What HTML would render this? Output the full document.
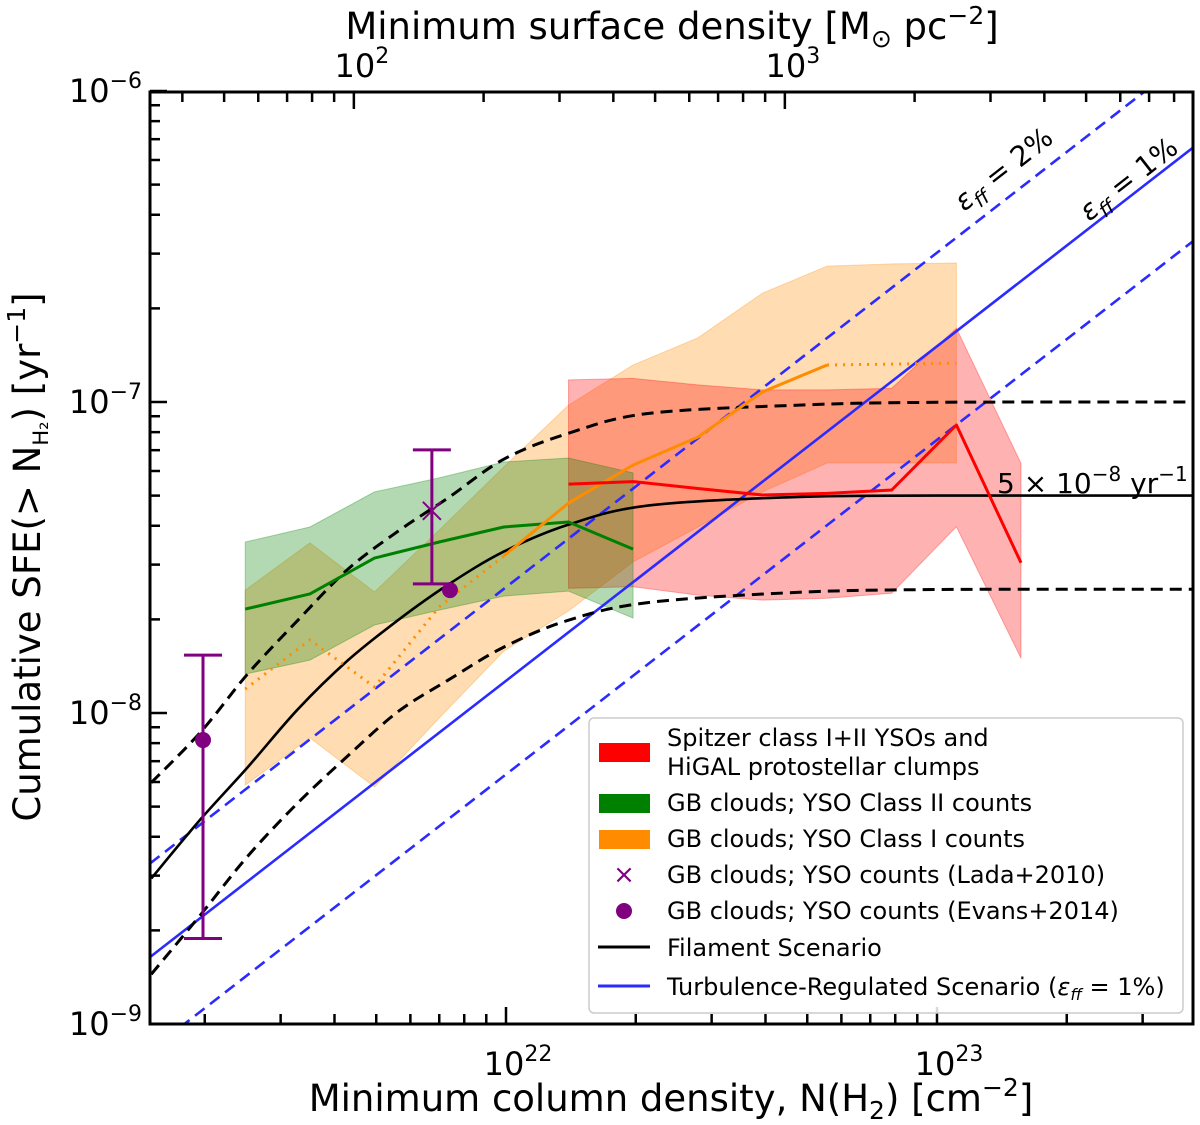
<!DOCTYPE html>
<html><head><meta charset="utf-8"><style>
html,body{margin:0;padding:0;background:#fff;}
svg{display:block;font-family:"DejaVu Sans","Liberation Sans",sans-serif;}
</style></head><body>
<svg id="chart" width="1200" height="1125" viewBox="0 0 1200 1125" xmlns="http://www.w3.org/2000/svg">
<defs><clipPath id="plotclip"><rect x="150" y="92" width="1043" height="932"/></clipPath></defs>
<rect x="0" y="0" width="1200" height="1125" fill="#fff"/>
<g id="plot" clip-path="url(#plotclip)"></g>
<g id="axes"></g>
<text x="671" y="1111" font-size="37" text-anchor="middle">Minimum column density, N(H<tspan font-size="25" dy="8">2</tspan><tspan dy="-8">) [cm</tspan><tspan font-size="25" dy="-15">−2</tspan><tspan dy="15">]</tspan></text>
<text x="672" y="39" font-size="37" text-anchor="middle">Minimum surface density [M<tspan font-size="25" dy="8">⊙</tspan><tspan dy="-8"> pc</tspan><tspan font-size="25" dy="-15">−2</tspan><tspan dy="15">]</tspan></text>
<text transform="translate(40,557) rotate(-90)" font-size="37" text-anchor="middle">Cumulative SFE(&gt; N<tspan font-size="21" dy="8">H₂</tspan><tspan dy="-8">) [yr</tspan><tspan font-size="25" dy="-15">−1</tspan><tspan dy="15">]</tspan></text>
<text x="997" y="493" font-size="28">5 × 10<tspan font-size="20" dy="-12">−8</tspan><tspan dy="12"> yr</tspan><tspan font-size="20" dy="-12">−1</tspan></text>
<text transform="translate(964,212) rotate(-38)" font-size="28"><tspan font-style="italic">ε</tspan><tspan font-size="20" font-style="italic" dy="7">ff</tspan><tspan dy="-7"> = 2%</tspan></text>
<text transform="translate(1089,222) rotate(-38)" font-size="28"><tspan font-style="italic">ε</tspan><tspan font-size="20" font-style="italic" dy="7">ff</tspan><tspan dy="-7"> = 1%</tspan></text>
<g id="legend">
<rect x="589" y="718" width="594" height="295" rx="5" fill="#fff" fill-opacity="0.85" stroke="#ccc" stroke-width="1.5"/>
<rect x="599" y="743" width="51" height="19" fill="#ff0000"/>
<text x="667" y="746" font-size="24">Spitzer class I+II YSOs and</text>
<text x="667" y="775" font-size="24">HiGAL protostellar clumps</text>
<rect x="599" y="794" width="51" height="19" fill="#008000"/>
<text x="667" y="811" font-size="24">GB clouds; YSO Class II counts</text>
<rect x="599" y="830" width="51" height="19" fill="#ff8c00"/>
<text x="667" y="847" font-size="24">GB clouds; YSO Class I counts</text>
<text x="624" y="883" font-size="26" fill="#800080" text-anchor="middle">×</text>
<text x="667" y="883" font-size="24">GB clouds; YSO counts (Lada+2010)</text>
<ellipse cx="624" cy="911" rx="8" ry="8" fill="#800080"/>
<text x="667" y="919" font-size="24">GB clouds; YSO counts (Evans+2014)</text>
<line x1="598" y1="947" x2="650" y2="947" stroke="#000" stroke-width="3"/>
<text x="667" y="956" font-size="24">Filament Scenario</text>
<line x1="598" y1="986" x2="650" y2="986" stroke="#2b2bff" stroke-width="3"/>
<text x="667" y="995" font-size="24">Turbulence-Regulated Scenario (<tspan font-style="italic">ε</tspan><tspan font-size="16" font-style="italic" dy="5">ff</tspan><tspan dy="-5"> = 1%)</tspan></text>
</g>
</svg>
<script>
// ---- data (log10 units) ----
const gridLogN = [21.395,21.545,21.695,21.845,21.995,22.145,22.295,22.445,22.595,22.745,22.895,23.045,23.195];
const greenUpper = [-7.450,-7.402,-7.289,-7.244,-7.193,-7.180,-7.228];
const greenLower = [-7.875,-7.830,-7.717,-7.669,-7.624,-7.608,-7.695];
const greenLine  = [-7.666,-7.617,-7.502,-7.450,-7.402,-7.386,-7.473];
const orangeUpper = [-7.605,-7.453,-7.611,-7.412,-7.209,-7.010,-6.881,-6.794,-6.650,-6.563,-6.556,-6.553];
const orangeLower = [-8.232,-8.080,-8.238,-8.016,-7.801,-7.672,-7.514,-7.402,-7.289,-7.196,-7.196,-7.196];
const orangeDotLeft = [-7.923,-7.765,-7.916,-7.659,-7.495];
const orangeSolid = [-7.495,-7.325,-7.203,-7.113,-6.968,-6.881];
const orangeDotRight = [-6.881,-6.878,-6.875];
const redUpper = [-6.929,-6.924,-6.945,-6.961,-6.961,-6.956,-6.763,-7.197];
const redLower = [-7.599,-7.594,-7.621,-7.637,-7.631,-7.615,-7.401,-7.824];
const redLine  = [-7.264,-7.256,-7.278,-7.299,-7.294,-7.283,-7.074,-7.517];
const filLogN = [21.177,21.293,21.401,21.517,21.633,21.749,21.865,21.995,22.144,22.329,22.68,23.0,23.6];
const filMid  = [-8.532,-8.339,-8.174,-7.988,-7.831,-7.702,-7.588,-7.481,-7.395,-7.333,-7.305,-7.301,-7.301];
const filHigh = [-8.224,-8.059,-7.874,-7.702,-7.538,-7.416,-7.309,-7.184,-7.101,-7.037,-7.010,-7.001,-7.000];
const filLow  = [-8.840,-8.646,-8.460,-8.289,-8.138,-7.996,-7.895,-7.788,-7.702,-7.645,-7.612,-7.603,-7.602];
const turbLogN = [21.174,23.593];
const turbLogS = [-8.785,-6.183];
const turbOffsets = [0,0.301,-0.301];
const evansLogN = [21.297,21.870];
const evansLogS = [-8.087,-7.605];
const evansErrHi = [-7.814];
const evansErrLo = [-8.725];
const ladaLogN = [21.828];
const ladaLogS = [-7.350];
const ladaErrHi = [-7.154];
const ladaErrLo = [-7.585];
const xMajor = [22,23];
const xMajorLabels = ["22","23"];
const yMajor = [-9,-8,-7,-6];
const yMajorLabels = ["−9","−8","−7","−6"];
const topMajor = [2,3];
const topMajorLabels = ["2","3"];
const sigmaOffset = 19.647;

// ---- scales ----
function X(l){return 506+(l-22)*431;}
function Y(l){return 1024-(l+9)*311;}
const NS="http://www.w3.org/2000/svg";
const plot=document.getElementById('plot');
const axes=document.getElementById('axes');
function mk(tag,attrs,parent){const e=document.createElementNS(NS,tag);for(const k in attrs)e.setAttribute(k,attrs[k]);parent.appendChild(e);return e;}
function pts(xs,ys){return xs.map((x,i)=>X(x).toFixed(1)+','+Y(ys[i]).toFixed(1)).join(' ');}
function band(xs,up,lo,fill,name){
  const p=pts(xs,up)+' '+pts(xs.slice().reverse(),lo.slice().reverse());
  const e=mk('polygon',{points:p,fill:fill,stroke:fill},plot);
  
  
}
function line(xs,ys,stroke,w,dash,name){
  const e=mk('polyline',{points:pts(xs,ys),fill:'none',stroke:stroke,'stroke-width':w,'stroke-linejoin':'round'},plot);
  if(dash)e.setAttribute('stroke-dasharray',dash);
  
  
}
function smooth(xs,ys,stroke,w,dash,name){
  const P=xs.map((x,i)=>[X(x),Y(ys[i])]);
  let d=`M${P[0][0]},${P[0][1]}`;
  for(let i=0;i<P.length-1;i++){
    const p0=P[Math.max(0,i-1)],p1=P[i],p2=P[i+1],p3=P[Math.min(P.length-1,i+2)];
    const c1=[p1[0]+(p2[0]-p0[0])/6,p1[1]+(p2[1]-p0[1])/6];
    const c2=[p2[0]-(p3[0]-p1[0])/6,p2[1]-(p3[1]-p1[1])/6];
    d+=`C${c1[0].toFixed(1)},${c1[1].toFixed(1)} ${c2[0].toFixed(1)},${c2[1].toFixed(1)} ${p2[0].toFixed(1)},${p2[1].toFixed(1)}`;
  }
  const e=mk('path',{d:d,fill:'none',stroke:stroke,'stroke-width':w},plot);
  if(dash)e.setAttribute('stroke-dasharray',dash);
  
  
}
const gX=gridLogN.slice(0,7), oX=gridLogN.slice(0,12), rX=gridLogN.slice(5,13);
band(oX,orangeUpper,orangeLower,'rgba(255,140,0,0.3)','orange-band');
band(rX,redUpper,redLower,'rgba(255,0,0,0.3)','red-band');
band(gX,greenUpper,greenLower,'rgba(0,128,0,0.3)','green-band');
turbOffsets.forEach((o,i)=>{
  line(turbLogN,turbLogS.map(v=>v+o),'#2b2bff',2.6,i?'12,7':null,i?'turbulence-dashed-line':'turbulence-line');
});
smooth(filLogN,filHigh,'#000',3,'12,7','filament-upper-dashed');
smooth(filLogN,filLow,'#000',3,'12,7','filament-lower-dashed');
smooth(filLogN,filMid,'#000',2.6,null,'filament-line');
line(gX,greenLine,'#008000',3,null,'green-line');
line(gridLogN.slice(0,5),orangeDotLeft,'#ff8c00',3,'2,6','orange-dotted-left');
line(gridLogN.slice(4,10),orangeSolid,'#ff8c00',3,null,'orange-line');
line(gridLogN.slice(9,12),orangeDotRight,'#ff8c00',3,'2,6','orange-dotted-right');
line(rX,redLine,'#ff0000',3,null,'red-line');
function errbar(lx,hi,lo,name){
  const x=X(lx);
  const e=mk('path',{d:`M${x},${Y(hi)}V${Y(lo)}M${x-19},${Y(hi)}H${x+19}M${x-19},${Y(lo)}H${x+19}`,stroke:'#800080','stroke-width':3,fill:'none'},plot);
  
  
}
errbar(evansLogN[0],evansErrHi[0],evansErrLo[0],'evans-errorbar');
errbar(ladaLogN[0],ladaErrHi[0],ladaErrLo[0],'lada-errorbar');
evansLogN.forEach((l,i)=>{
  const c=mk('circle',{cx:X(l),cy:Y(evansLogS[i]),r:8,fill:'#800080'},plot);
  
  
});
ladaLogN.forEach((l,i)=>{
  const x=X(l),y=Y(ladaLogS[i]);
  const c=mk('path',{d:`M${x-9},${y-9}L${x+9},${y+9}M${x-9},${y+9}L${x+9},${y-9}`,stroke:'#800080','stroke-width':2},plot);
  
  
});
// ---- axes ----
const L=150,R=1193,T=92,B=1024;
const frame=mk('rect',{x:L,y:T,width:R-L,height:B-T,fill:'none',stroke:'#000','stroke-width':3},axes);


function tick(d,name){const e=mk('path',{d:d,stroke:'#000','stroke-width':2.5},axes);}
const xmin=(L-506)/431+22, xmax=(R-506)/431+22;
for(let dec=21;dec<=23;dec++){for(let m=1;m<=9;m++){const l=dec+Math.log10(m);if(l<xmin||l>xmax)continue;const x=X(l);tick(`M${x},${B}V${B-(m===1?17:10)}`,'x-tick');}}
for(let dec=1;dec<=3;dec++){for(let m=1;m<=9;m++){const l=dec+Math.log10(m)+sigmaOffset;if(l<xmin||l>xmax)continue;const x=X(l);tick(`M${x},${T}V${T+(m===1?17:10)}`,'top-tick');}}
for(let dec=-9;dec<=-7;dec++){for(let m=1;m<=9;m++){const l=dec+Math.log10(m);const y=Y(l);tick(`M${L},${y}H${L+(m===1?17:10)}`,'y-tick');}}
tick(`M${L},${Y(-6)}H${L+17}`,'y-tick');
function powLabel(x,y,exp,anchor,name){
  const t=mk('text',{x:x,y:y,'font-size':32,'text-anchor':anchor},axes);
  
  
  t.textContent='10';
  const s=mk('tspan',{'font-size':22,dy:-14},t);s.textContent=exp;
}
xMajor.forEach((l,i)=>powLabel(X(l)+12,1075,xMajorLabels[i],'middle','x-tick-label'));
topMajor.forEach((l,i)=>powLabel(X(l+sigmaOffset)+8,77,topMajorLabels[i],'middle','top-tick-label'));
yMajor.forEach((l,i)=>powLabel(142,Y(l)+11,yMajorLabels[i],'end','y-tick-label'));
</script>
</body></html>
